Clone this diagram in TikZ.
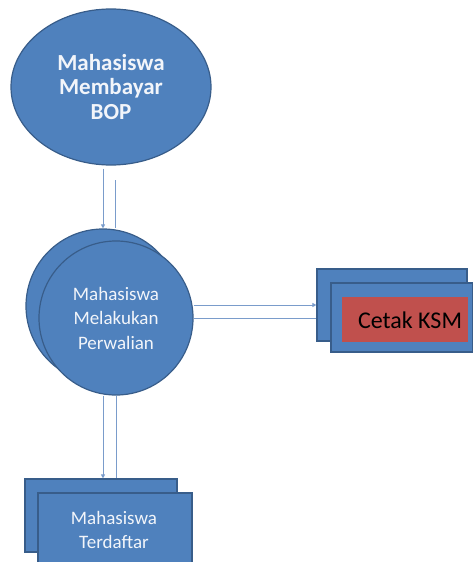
\documentclass[tikz,border=0pt]{standalone}
\usepackage{fontspec}
\setmainfont{Carlito}
\usetikzlibrary{shapes.geometric,arrows.meta}
\definecolor{boxblue}{HTML}{4F81BD}
\definecolor{edgeblue}{HTML}{385D8A}
\definecolor{lineblue}{HTML}{7A9CCB}
\definecolor{boxred}{HTML}{C0504D}
\definecolor{paletext}{HTML}{F2F5FA}
\tikzset{
  x=1pt, y=-1pt,
  blueshape/.style={fill=boxblue, draw=edgeblue, line width=1.2pt, inner sep=0pt},
  circ/.style={blueshape, circle, minimum size=154pt},
  rectb/.style={blueshape, rectangle},
  wtext/.style={text=paletext, align=center, font=\fontsize{19}{24.5}\selectfont},
  conn/.style={draw=lineblue, line width=1pt},
  arr/.style={conn, -{Triangle[length=4pt,width=4pt]}}
}
\begin{document}
\begin{tikzpicture}
\useasboundingbox (0,0) rectangle (472,562);
% top ellipse
\node[blueshape, ellipse, minimum width=200pt, minimum height=156pt,
      wtext, font=\bfseries\fontsize{23}{24.5}\selectfont] (e1) at (111,87)
      {Mahasiswa\\Membayar\\BOP};
% process circles
\node[circ] (c2back) at (103,306) {};
\node[circ, wtext] (c2front) at (116,318) {Mahasiswa\\Melakukan\\Perwalian};
% Cetak KSM
\node[rectb, minimum width=150pt, minimum height=72pt] (ksmback) at (392,305) {};
\node[rectb, minimum width=142pt, minimum height=69pt] (ksmfront) at (402,317.5) {};
\node[fill=boxred, inner sep=0pt, minimum width=126pt, minimum height=45pt] (ksmred) at (405,319.5) {};
\node[text=black, font=\fontsize{24}{26}\selectfont] (ksmtext) at (410,320) {Cetak KSM};
% Mahasiswa Terdaftar
\node[rectb, minimum width=152pt, minimum height=73pt] (t1back) at (101,515.5) {};
\node[rectb, minimum width=154pt, minimum height=80pt] (t1front) at (115,533) {};
\node[wtext] (t1text) at (114,530) {Mahasiswa\\Terdaftar};
% connectors top
\coordinate (s2) at (115,180);
\draw[arr] (e1.south -| c2back.center) ++(0,3) -- (c2back.north);
\draw[conn] (s2) -- (s2 |- c2back.north);
% connectors right
\draw[arr] (ksmback.west -| c2front.east) -- (ksmback.west);
\draw[conn] (c2front.east) -- (c2front.east -| ksmback.west);
% connectors bottom
\draw[arr] (c2front.south -| c2back.center) -- (t1back.north -| c2back.center);
\draw[conn] (c2front.south) -- (c2front.south |- t1back.north);
\end{tikzpicture}
\end{document}
